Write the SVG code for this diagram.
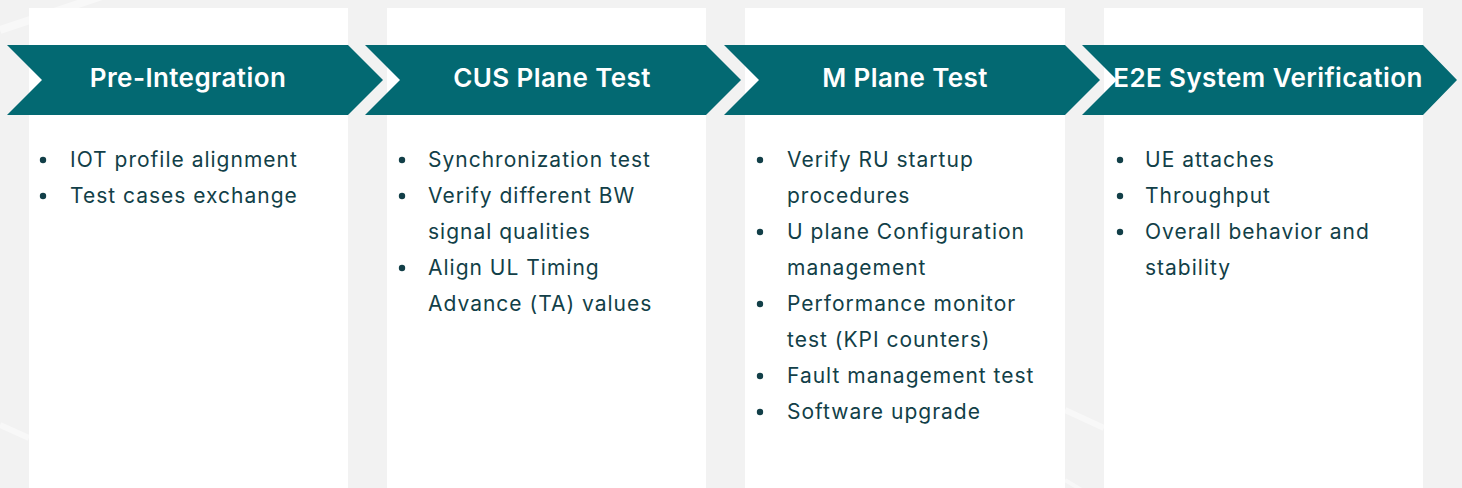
<svg xmlns="http://www.w3.org/2000/svg" width="1462" height="488" viewBox="0 0 1462 488">
<defs>
<style>
.bg{fill:#f2f2f2}
.col{fill:#ffffff}
.chev{fill:#036972}
.title{font-family:Inter,"Liberation Sans",sans-serif;font-weight:600;font-size:26px;letter-spacing:0.4px;fill:#ffffff;text-anchor:middle}
.item{font-family:Inter,"Liberation Sans",sans-serif;font-size:21px;letter-spacing:1px;fill:#123f48}
.dot{fill:#123f48}
.streak{stroke:#ffffff;stroke-opacity:0.45;fill:none}
</style>
</defs>
<rect class="bg" x="0" y="0" width="1462" height="488"/>
<g id="background-streaks">
<path class="streak" stroke-width="8" d="M0 30 L120 -10"/>
<path class="streak" stroke-width="6" d="M0 425 L29 438"/>
<path class="streak" stroke-width="6" d="M1065 410 L1104 428"/>
<path class="streak" stroke-width="4" d="M1065 480 L1085 492"/>
</g>
<g id="columns">
<rect class="col" x="29" y="8" width="319" height="480"/>
<rect class="col" x="387" y="8" width="319" height="480"/>
<rect class="col" x="745" y="8" width="320" height="480"/>
<rect class="col" x="1104" y="8" width="319" height="480"/>
</g>
<g id="connectors"></g>
<g id="node-pre-integration">
<polygon class="chev" points="7,45 348,45 383,80 348,115 7,115 42,80"/>
<text class="title" x="188" y="87">Pre-Integration</text>
<circle class="dot" cx="43" cy="160" r="3.2"/>
<text class="item" x="70" y="167">IOT profile alignment</text>
<circle class="dot" cx="43" cy="196" r="3.2"/>
<text class="item" x="70" y="203">Test cases exchange</text>
</g>
<g id="node-cus-plane-test">
<polygon class="chev" points="365,45 706,45 741,80 706,115 365,115 400,80"/>
<text class="title" x="552" y="87">CUS Plane Test</text>
<circle class="dot" cx="402" cy="160" r="3.2"/>
<text class="item" x="428" y="167">Synchronization test</text>
<circle class="dot" cx="402" cy="196" r="3.2"/>
<text class="item" x="428" y="203">Verify different BW</text>
<text class="item" x="428" y="239">signal qualities</text>
<circle class="dot" cx="402" cy="268" r="3.2"/>
<text class="item" x="428" y="275">Align UL Timing</text>
<text class="item" x="428" y="311">Advance (TA) values</text>
</g>
<g id="node-m-plane-test">
<polygon class="chev" points="724,45 1065,45 1100,80 1065,115 724,115 759,80"/>
<text class="title" x="905" y="87">M Plane Test</text>
<circle class="dot" cx="760" cy="160" r="3.2"/>
<text class="item" x="787" y="167">Verify RU startup</text>
<text class="item" x="787" y="203">procedures</text>
<circle class="dot" cx="760" cy="232" r="3.2"/>
<text class="item" x="787" y="239">U plane Configuration</text>
<text class="item" x="787" y="275">management</text>
<circle class="dot" cx="760" cy="304" r="3.2"/>
<text class="item" x="787" y="311">Performance monitor</text>
<text class="item" x="787" y="347">test (KPI counters)</text>
<circle class="dot" cx="760" cy="376" r="3.2"/>
<text class="item" x="787" y="383">Fault management test</text>
<circle class="dot" cx="760" cy="412" r="3.2"/>
<text class="item" x="787" y="419">Software upgrade</text>
</g>
<g id="node-e2e-system-verification">
<polygon class="chev" points="1082,45 1423,45 1457,80 1423,115 1082,115 1117,80"/>
<text class="title" x="1268" y="87">E2E System Verification</text>
<circle class="dot" cx="1120" cy="160" r="3.2"/>
<text class="item" x="1145" y="167">UE attaches</text>
<circle class="dot" cx="1120" cy="196" r="3.2"/>
<text class="item" x="1145" y="203">Throughput</text>
<circle class="dot" cx="1120" cy="232" r="3.2"/>
<text class="item" x="1145" y="239">Overall behavior and</text>
<text class="item" x="1145" y="275">stability</text>
</g>
</svg>
